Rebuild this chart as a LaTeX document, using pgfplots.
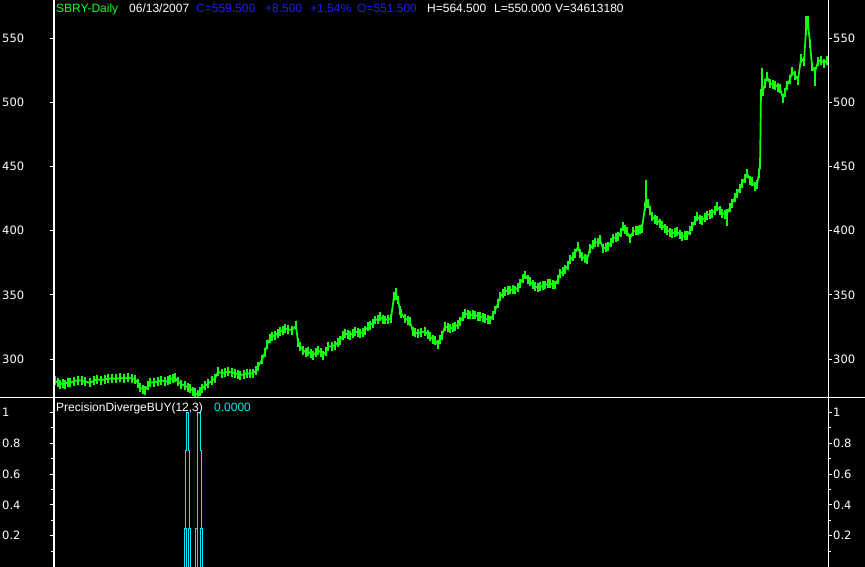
\documentclass[border=0pt]{standalone}
\usepackage{fontspec}
\setmainfont{Liberation Sans}
\newfontfamily\tickfont{DejaVu Sans}
\usepackage{pgfplots}
\pgfplotsset{compat=1.18}
\usepackage{pgfplotstable}

\definecolor{bargreen}{RGB}{20,255,20}
\definecolor{hdrblue}{RGB}{30,30,245}
\definecolor{sigcyan}{RGB}{0,235,245}

% daily closes, x in screen columns
\pgfplotstableread{
x y
55 283
58 281.5
60 280.5
63 281
65 280.5
68 282
70 281.5
74 282.5
78 283.6
82 283
85 282.3
90 281.5
94 283
97 284.2
101 283.5
105 284.2
108 284.5
112 285
116 284.5
120 285.2
124 285
128 285.2
132 285
135 284.2
138 281
140 277.6
143 276.5
145 275.8
148 279
150 281.5
154 282
158 282.3
161 283.5
165 282.3
168 283
170 284.2
173 285
175 285.4
178 282.3
181 280.5
185 279
188 278
190 277.2
193 275
195 273.7
198 272
200 275
202 277.2
205 279
208 281
212 283
215 285
218 290
222 289
225 289.5
228 290
232 289.5
235 289
238 288
240 287.5
244 288
247 289
250 288.5
253 289
256 291
258 294
262 299.5
265 305
267 311
270 316
272 317.4
275 318.7
278 320
280 321.3
283 322.5
285 323.9
288 323
292 322.6
296 326
298 313
300 310
303 307
306 305
308 305.7
311 304
313 303.1
316 305
318 307
321 305
323 303.1
326 306
328 309.6
332 310
335 310.9
338 313
340 314.8
343 318
345 320
348 319
350 318.7
353 320
355 321.3
358 321
360 320
363 321
365 322.6
368 325
370 326.5
373 328
375 330.4
378 331
380 333
383 331
385 330.4
388 331
391 331.7
394 349
396 351
398 346
400 338
401 335.6
405 331.7
408 330
410 329.1
413 321.3
415 320.5
418 320
421 321
425 321.3
428 319
430 317.4
433 315.5
435 314.8
438 311
440 315
442 318.7
445 325.2
448 324.5
450 323.9
453 324.5
455 325.2
458 327
460 329.1
463 333
465 335.6
468 334.5
470 334.3
473 334.5
475 334.3
478 333.5
480 333
483 332.5
485 331.7
488 331
490 330.4
493 334
495 338.2
498 343
500 348.6
503 351
505 352.5
508 353.5
510 353.8
513 354
515 353.8
518 356
520 359
523 363
525 365.5
528 362
530 360.3
533 358
535 356.3
538 356
540 356.3
543 357
545 357.7
548 358.5
550 359
553 358
555 357.7
558 362
560 366.8
563 368
565 369.4
568 373
570 377.2
573 380
575 382.4
578 387.6
580 382
582 379.8
585 378
587 377.2
590 386
593 389
595 391.2
598 391
600 392.8
603 386.3
606 387
608 387.6
611 391
613 394.1
616 395
618 395.3
621 399
623 403.1
625 401
627 399.2
630 394.1
633 399.2
636 400
638 400.5
640 401
642 401.8
645 418.7
648 421.4
650 416
652 410.9
655 409
657 408.3
660 406
662 404.4
665 402
667 400.5
670 399
672 398
675 398.5
677 399.2
680 397
682 395.3
685 396
687 396.6
690 400
692 403.1
695 408
697 410.9
700 409
702 408.3
705 410
707 412.2
710 413
712 413.6
715 416
717 418.7
720 416
722 413.6
725 413
727 413.6
730 418
732 421.4
735 426
737 429.2
740 433
742 436.9
745 441
747 444.7
750 439.5
752 438.2
755 434.3
757 436
759 444.7
760 452
761 507
763 508.4
765 515
767 520.1
770 515
773 514
775 513.6
778 512
780 511.1
783 503.3
785 508
787 513.6
790 518
792 524
795 521.4
798 517.5
801 534.4
804 531.8
806 556.1
808 561.3
810 546.1
812 527.9
815 524
818 531.8
821 533.1
824 530.5
827 533.1
}\closetab

% long wicks (high/low beyond the body)
\pgfplotstableread{
x y ep em
140 277.6 2 3
145 275.8 2 3
198 272 2 3
218 290 3 2
296 326 2 2
396 351 4 5
646 420 19.5 2
727 413.6 2 10
760 452 2 4
762 510 17 3
783 503.3 2 2
806 556.1 11.7 3
808 561.3 6 2
815 524 2 11
}\wicktab

\pgfplotsset{
  panel/.style={
    scale only axis, width=774pt, xmin=54, xmax=828,
    separate axis lines,
    x axis line style={draw=none},
    y axis line style={white, line width=1pt},
    xtick=\empty,
    tick style={white, line width=1pt},
    tick align=outside, major tick length=4pt, minor tick length=2.5pt,
    /pgf/number format/assume math mode=true,
    ticklabel style={white, font=\tickfont\fontsize{11.5}{13}\selectfont, inner sep=0pt},
  },
  leftside/.style={ytick pos=left, yticklabel pos=left,
    yticklabel style={anchor=west, xshift=-48pt}},
  rightside/.style={ytick pos=right, yticklabel pos=right,
    yticklabel style={anchor=west, xshift=1pt}},
  pricepanel/.style={panel, at={(54pt,169pt)}, anchor=south west, height=398pt,
    ymin=269.6, ymax=579.9, ytick={300,350,400,450,500,550}},
  sigpanel/.style={panel, at={(54pt,0pt)}, anchor=south west, height=169pt,
    ymin=-0.003, ymax=1.094, ytick={0.2,0.4,0.6,0.8,1},
    minor ytick={0.1,0.3,0.5,0.7,0.9}},
}

\begin{document}
\begin{tikzpicture}[x=1pt, y=1pt]
\fill[black] (0,0) rectangle (865,567);

% price panel
\begin{axis}[pricepanel, leftside]
\addplot[bargreen, line width=1.7pt,
  error bars/.cd, y dir=both, y fixed=3.5, error mark=none,
  error bar style={bargreen, line width=1.1pt}] table {\closetab};
\addplot[draw=none, mark=none,
  error bars/.cd, y dir=both, y explicit, error mark=none,
  error bar style={draw=bargreen, line width=1.1pt}]
  table[x=x, y=y, y error plus=ep, y error minus=em] {\wicktab};
\end{axis}
\begin{axis}[pricepanel, rightside]
\end{axis}

% indicator panel
\begin{axis}[sigpanel, leftside]
\addplot[sigcyan, line width=1pt] coordinates {(184,0) (184,0.25) (185.3,0.25)
  (185.3,0.75) (186.2,0.75) (186.2,1) (188.4,1) (188.4,0.75) (189.2,0.75)
  (189.2,0.25) (190.3,0.25) (190.3,0)};
\addplot[sigcyan, line width=1pt] coordinates {(195.7,0) (195.7,0.25) (197,0.25)
  (197,0.75) (197.8,0.75) (197.8,1) (200.6,1) (200.6,0.75) (201.3,0.75)
  (201.3,0.25) (202.3,0.25) (202.3,0)};
\addplot[sigcyan, line width=1pt] coordinates {(186.2,0) (186.2,0.25)};
\addplot[sigcyan, line width=1pt] coordinates {(188.4,0) (188.4,0.25)};
\addplot[sigcyan, line width=1pt] coordinates {(197.8,0) (197.8,0.25)};
\addplot[sigcyan, line width=1pt] coordinates {(200.4,0) (200.4,0.25)};
\end{axis}
\begin{axis}[sigpanel, rightside]
\end{axis}

\draw[white, line width=1pt] (0,169) -- (865,169);

\begin{scope}[every node/.style={anchor=base west, inner sep=0pt, font=\fontsize{12}{14}\selectfont}]
\node[text=bargreen] at (56,554) {SBRY-Daily};
\node[text=white] at (129,554) {06/13/2007};
\node[text=hdrblue] at (196,554) {C=559.500};
\node[text=hdrblue] at (265,554) {+8.500};
\node[text=hdrblue] at (310,554) {+1.54\%};
\node[text=hdrblue] at (357,554) {O=551.500};
\node[text=white] at (427,554) {H=564.500};
\node[text=white] at (494,554) {L=550.000};
\node[text=white] at (555,554) {V=34613180};
\node[text=white] at (56,155.5) {PrecisionDivergeBUY(12,3)};
\node[text=sigcyan] at (214,155.5) {0.0000};
\end{scope}

\pgfresetboundingbox
\useasboundingbox (0,0) rectangle (865,567);
\end{tikzpicture}
\end{document}
